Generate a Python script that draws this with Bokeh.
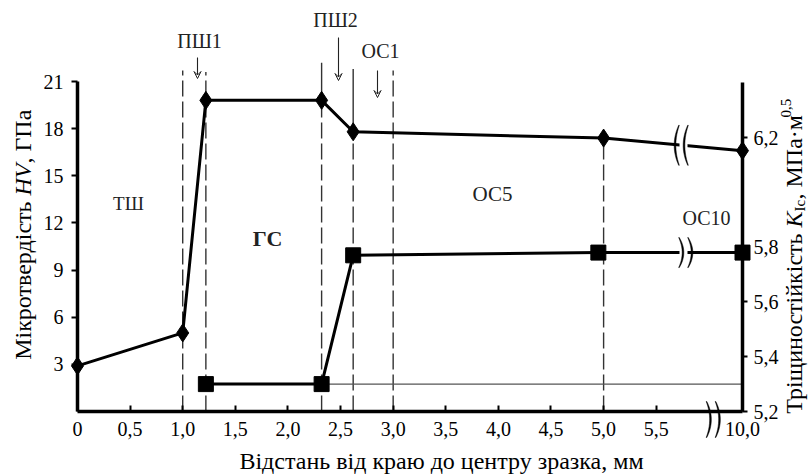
import numpy as np
from math import pi
from bokeh.plotting import figure
from bokeh.models import (Range1d, LinearAxis, FixedTicker, ColumnDataSource, Label,
                          Arrow, VeeHead, PolyAnnotation)
from bokeh.embed import file_html
from bokeh.resources import INLINE

# ---------------- data ----------------
dist_hv = [0.0, 1.0, 1.22, 2.32, 2.62, 5.0, 10.0]
hv = [2.9, 5.0, 19.8, 19.8, 17.8, 17.4, 16.6]

dist_k = [1.22, 2.32, 2.62, 4.95, 10.0]
k1c = [5.30, 5.30, 5.77, 5.78, 5.78]

ref_k_dist = [2.32, 10.0]
ref_k = [5.3, 5.3]

x_tick_values = [0.0, 0.5, 1.0, 1.5, 2.0, 2.5, 3.0, 3.5, 4.0, 4.5, 5.0, 5.5, 10.0]
x_tick_labels = ["0", "0,5", "1,0", "1,5", "2,0", "2,5", "3,0", "3,5", "4,0", "4,5", "5,0", "5,5", "10,0"]
hv_ticks = [3, 6, 9, 12, 15, 18, 21]
k_ticks = [5.2, 5.4, 5.6, 5.8, 6.2]
k_tick_labels = ["5,2", "5,4", "5,6", "5,8", "6,2"]

zone_x = [1.0, 1.22, 2.32, 2.62, 3.0, 5.0]
zone_dash_top = [21.7, 21.6, 19.8, 17.8, 21.7, 17.3]
solid_x = [2.32, 2.62]
solid_bottom = [19.8, 17.8]
solid_top = [22.2, 21.8]

# ---------------- broken x axis ----------------
BREAK_AT = 5.5
GAP_END = 10.0
SHOWN = 0.82


def tx(v):
    return float(v) if v <= BREAK_AT else BREAK_AT + (v - BREAK_AT) * SHOWN / (GAP_END - BREAK_AT)


X_END = tx(GAP_END)

# ---------------- layout (frame = whole canvas, axes at fixed locations) ----------------
W, H = 809, 476
AX_L, AX_R, AX_B, AX_T = 77, 742, 411, 81   # pixels of x=0, x=10, HV=0, HV=21
K_PX = 274.0                                # pixels per 1.0 of K1c (5.2 at AX_B)

pxx = (AX_R - AX_L) / X_END
pxy = (AX_B - AX_T) / 21.0


def dx(px):
    return (px - AX_L) / pxx


def dy(py):
    return (AX_B - py) / pxy


p = figure(width=W, height=H,
           x_range=Range1d(dx(0), dx(W)), y_range=Range1d(dy(H), dy(0)),
           output_backend="svg", toolbar_location=None,
           min_border_left=0, min_border_right=0, min_border_top=0, min_border_bottom=0)
p.extra_y_ranges = {"k": Range1d(5.2 - (H - AX_B) / K_PX, 5.2 + AX_B / K_PX)}
p.outline_line_color = None
p.grid.visible = False
p.background_fill_color = "white"
p.border_fill_color = "white"

FONT = "Liberation Serif"


def style_axis(ax):
    ax.axis_line_width = 3.5
    ax.axis_line_color = "black"
    ax.major_tick_line_width = 2
    ax.major_tick_line_color = "black"
    ax.minor_tick_line_color = None
    ax.major_label_text_font = FONT
    ax.major_label_text_font_size = "20px"
    ax.major_label_text_color = "black"
    ax.axis_label = None


xa = p.xaxis[0]
style_axis(xa)
xa.fixed_location = 0
xa.bounds = (0, X_END)
xt = [tx(v) for v in x_tick_values]
xa.ticker = FixedTicker(ticks=xt)
xa.major_label_overrides = dict(zip(xt, x_tick_labels))
xa.major_tick_in = 6
xa.major_tick_out = 0
xa.major_label_standoff = 10

ya = p.yaxis[0]
style_axis(ya)
ya.fixed_location = 0
ya.bounds = (0, 21)
ya.ticker = FixedTicker(ticks=hv_ticks)
ya.major_tick_in = 0
ya.major_tick_out = 6
ya.major_label_standoff = 8

ka = LinearAxis(y_range_name="k")
style_axis(ka)
ka.fixed_location = X_END
ka.bounds = (5.2, 6.4)
ka.ticker = FixedTicker(ticks=k_ticks)
ka.major_label_overrides = dict(zip(k_ticks, k_tick_labels))
ka.major_tick_in = 0
ka.major_tick_out = 5
ka.major_label_standoff = 6
p.add_layout(ka, "right")

# ---------------- zone boundaries ----------------
zx = [tx(v) for v in zone_x]
p.segment(x0=zx, y0=[0] * len(zx), x1=zx, y1=zone_dash_top,
          line_color="#333333", line_width=1.4, line_dash="16 5")
sx = [tx(v) for v in solid_x]
p.segment(x0=sx, y0=solid_bottom, x1=sx, y1=solid_top,
          line_color="#333333", line_width=1.4)

# thin reference line
p.line([tx(v) for v in ref_k_dist], ref_k, y_range_name="k",
       line_color="#555555", line_width=1.3)

# ---------------- data lines ----------------
src_hv = ColumnDataSource(dict(x=[tx(v) for v in dist_hv], y=hv))
src_k = ColumnDataSource(dict(x=[tx(v) for v in dist_k], y=k1c))

p.line("x", "y", source=src_hv, line_color="black", line_width=3)
p.line("x", "y", source=src_k, y_range_name="k", line_color="black", line_width=3)

# gaps at the axis break on the data lines
BRK_PX = 683
brk_x = dx(BRK_PX)
hv_at_brk = float(np.interp(brk_x, src_hv.data["x"], hv))
k_at_brk = float(np.interp(brk_x, src_k.data["x"], k1c))
p.rect(x=[brk_x], y=[hv_at_brk], width=8, height=14, width_units="screen", height_units="screen",
       fill_color="white", line_color=None)
p.rect(x=[brk_x], y=[k_at_brk], width=8, height=14, width_units="screen", height_units="screen",
       fill_color="white", line_color=None, y_range_name="k")

p.scatter("x", "y", source=src_hv, marker="diamond", size=18, color="black")
p.scatter("x", "y", source=src_k, marker="square", size=15, color="black", y_range_name="k")


# ---------------- break marks ----------------
def crescent(cx, cy, h, bulge, thick=1.7, n=14):
    s = np.linspace(0, 1, n)
    ys = cy + (s - 0.5) * h
    xs = cx + bulge * (1 - (2 * s - 1) ** 2)
    w = thick / 2 * (0.4 + 0.6 * (1 - (2 * s - 1) ** 2))
    px_x = np.concatenate([xs - w, (xs + w)[::-1]])
    px_y = np.concatenate([ys, ys[::-1]])
    return [dx(v) for v in px_x], [dy(v) for v in px_y]


hv_cy = AX_B - hv_at_brk * pxy
k_cy = AX_B - (k_at_brk - 5.2) * K_PX
marks = [
    (BRK_PX - 4.5, hv_cy, 40, -4), (BRK_PX + 4.5, hv_cy, 40, -4),
    (BRK_PX - 4.5, k_cy, 30, 4), (BRK_PX + 4.5, k_cy, 30, 4),
    (706, 419, 36, 4), (715, 419, 36, 4),
]
for cx, cy, hh, b in marks:
    mxs, mys = crescent(cx, cy, hh, b)
    p.add_layout(PolyAnnotation(xs=mxs, ys=mys, fill_color="black", fill_alpha=1.0,
                                line_color="black", line_width=0.6, line_alpha=0.8))

# ---------------- zone names & arrows ----------------
zone_labels = [
    ("ТШ", 128, 203, "19px", "normal"),
    ("ГС", 267, 238, "22px", "bold"),
    ("ПШ1", 199, 40, "20px", "normal"),
    ("ПШ2", 335, 19, "20px", "normal"),
    ("ОС1", 380, 50, "20px", "normal"),
    ("ОС5", 492, 193, "21px", "normal"),
    ("ОС10", 706, 217, "20px", "normal"),
]
for t, lx, ly, fs, st in zone_labels:
    p.add_layout(Label(x=dx(lx), y=dy(ly), text=t, text_font=FONT, text_font_size=fs,
                       text_font_style=st, text_align="center", text_baseline="middle",
                       text_color="#222222"))

arrows = [(197, 57, 78), (338, 37, 80), (377, 70, 97)]
for ax_, y0, y1 in arrows:
    p.add_layout(Arrow(end=VeeHead(size=7, line_width=1, line_color="#222222", fill_color=None),
                       x_start=dx(ax_), y_start=dy(y0), x_end=dx(ax_), y_end=dy(y1),
                       line_width=1.1, line_color="#222222"))

# ---------------- axis titles ----------------
TF = "24px"


def title_part(px_x, px_y, text, size=TF, style="normal", align="left", angle=pi / 2):
    p.add_layout(Label(x=dx(px_x), y=dy(px_y), text=text, angle=angle, text_font=FONT,
                       text_font_size=size, text_font_style=style, text_align=align,
                       text_baseline="middle", text_color="black"))


# x title (middle line of the text box)
title_part(441, 460, "Відстань від краю до центру зразка, мм", align="center", angle=0)

# left title with italic HV
LBX, P_HV = 22, 195
title_part(LBX, P_HV, "Мікротвердість\u00a0", align="right")
title_part(LBX, P_HV, "HV", style="italic")
title_part(LBX, P_HV - 32, ",\u00a0ГПа")

# right title with K_Ic and superscript 0,5
RBX, P_K = 793, 227
title_part(RBX, P_K, "Тріщиностійкість\u00a0", align="right")
title_part(RBX, P_K, "K", style="italic")
title_part(RBX + 6, P_K - 16, "Ic", size="15px")
title_part(RBX, P_K - 28, ",\u00a0МПа·м")
title_part(RBX - 8, P_K - 28 - 82, "0,5", size="15px")

open("out.html", "w").write(file_html(p, INLINE))
